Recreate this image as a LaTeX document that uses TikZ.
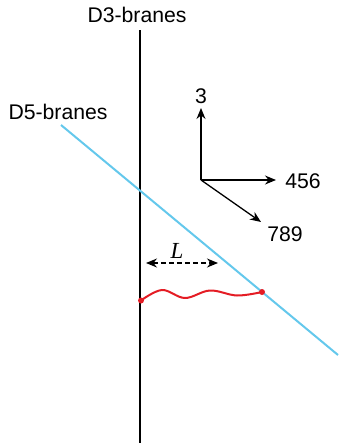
\documentclass[tikz,border=0pt]{standalone}
\usepackage{fontspec}
\setmainfont{Liberation Sans}
\newfontfamily\serifit{Liberation Serif}
\usetikzlibrary{arrows.meta}
\definecolor{dfive}{RGB}{100,200,236}
\definecolor{string}{RGB}{228,28,36}

\begin{document}
\begin{tikzpicture}[x=0.5pt, y=-0.5pt, font=\fontsize{10.6}{12}\selectfont,
    brane/.style={line width=1.3pt},
    axis/.style={line width=0.65pt, -{Stealth[length=5.5pt, width=4.5pt]}},
    lbl/.style={inner sep=0pt}]
    \useasboundingbox (0,0) rectangle (338,445);
    % branes
    \node[lbl] (d3) at (137,15) {D3-branes};
    \node[lbl] (d5) at (58,112) {D5-branes};
    \coordinate (d3top) at (140,30);
    \coordinate (d3bot) at (140,443);
    \coordinate (d5a) at (61,125);
    \coordinate (d5b) at (338,355);
    \draw[brane] (d3top) -- (d3bot);
    \draw[line width=1pt, dfive] (d5a) -- (d5b);
    % axes
    \coordinate (o) at (201,180);
    \node[lbl] (x3) at (201,96) {3};
    \node[lbl] (x456) at (303,181) {456};
    \node[lbl] (x789) at (285,234) {789};
    \coordinate (t3) at (201,108);
    \coordinate (t456) at (276,180);
    \coordinate (t789) at (261,222);
    \draw[axis] (o) -- (t3);
    \draw[axis] (o) -- (t456);
    \draw[axis] (o) -- (t789);
    % separation
    \coordinate (la) at (146,263);
    \coordinate (lb) at (218,263);
    \draw[line width=0.6pt, dashed, dash pattern=on 2.5pt off 1.5pt,
        {Stealth[length=5.5pt, width=4.5pt]}-{Stealth[length=5.5pt, width=4.5pt]}] (la) -- (lb);
    \node[lbl] (L) at (177,251) {\serifit\itshape\fontsize{11.5}{12}\selectfont L};
    % string
    \coordinate (sa) at (141,300.5);
    \coordinate (sb) at (262,292);
    \draw[string, line width=1pt] plot[smooth, tension=0.6] coordinates
        {(sa) (162,290) (185,298) (210,290.5) (237,295.5) (sb)};
    \fill[string] (sa) circle (3);
    \fill[string] (sb) circle (3);
\end{tikzpicture}
\end{document}
